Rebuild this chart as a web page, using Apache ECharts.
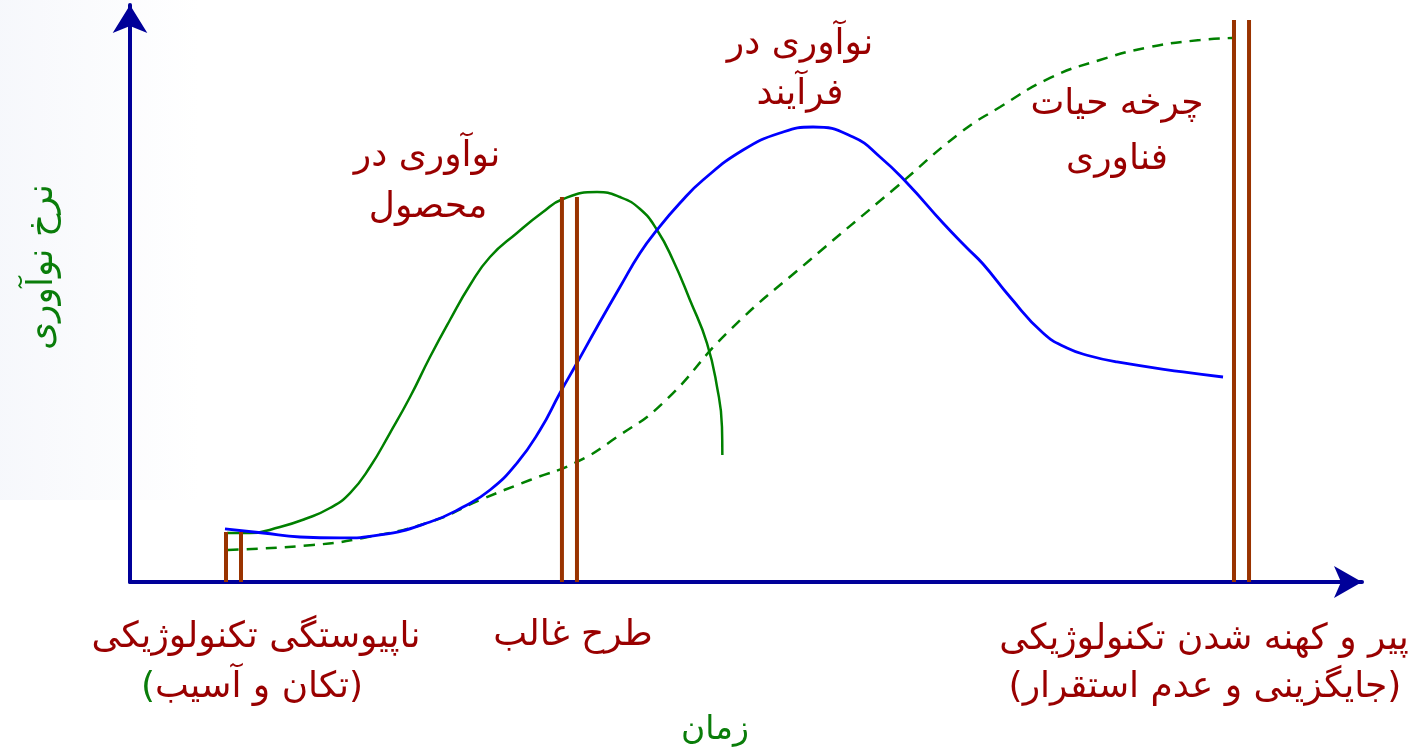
<!DOCTYPE html>
<html>
<head>
<meta charset="utf-8">
<script src="https://cdn.jsdelivr.net/npm/echarts@6/dist/echarts.min.js"></script>
<style>
  html, body { margin: 0; padding: 0; background: #fff; }
  #main { width: 1412px; height: 753px; }
</style>
</head>
<body>
<div id="main"></div>
<script>
// time axis 0..100, rate axis 0..100
var productX = [7.87, 9.74, 12.18, 14.20, 16.23, 17.86, 19.48, 21.10, 22.73, 24.35, 25.97, 27.60, 29.22, 31.41, 33.52, 35.15, 37.91, 39.77, 41.40, 42.78, 44.07, 45.45, 46.83, 47.65, 48.05, 48.08];
var productY = [8.49, 8.49, 9.53, 10.92, 12.82, 15.42, 19.93, 25.82, 32.06, 38.99, 45.41, 51.47, 56.33, 60.49, 64.12, 66.38, 67.59, 66.72, 64.64, 61.01, 55.81, 48.87, 41.42, 33.80, 26.86, 22.01];

var processX = [7.71, 10.80, 13.80, 17.05, 20.29, 24.35, 27.03, 29.22, 31.41, 33.28, 34.90, 36.28, 37.91, 39.77, 41.40, 42.78, 44.64, 46.51, 49.76, 52.76, 55.44, 58.69, 60.88, 63.07, 65.99, 67.94, 69.24, 71.43, 74.11, 76.06, 77.92, 80.11, 85.47, 88.72];
var processY = [9.19, 8.49, 7.80, 7.63, 8.15, 10.40, 13.00, 15.94, 20.62, 26.34, 32.76, 37.95, 44.19, 51.13, 57.02, 61.01, 65.68, 69.67, 74.87, 77.82, 78.86, 77.12, 73.66, 69.15, 62.22, 57.89, 55.11, 49.39, 43.15, 40.55, 39.17, 38.13, 36.40, 35.53];

var cycleX = [7.95, 14.85, 18.91, 24.35, 28.41, 32.47, 36.28, 39.53, 43.26, 48.70, 55.19, 61.93, 67.37, 70.62, 74.68, 78.73, 82.79, 86.85, 89.45];
var cycleY = [5.55, 6.41, 7.63, 10.40, 14.21, 17.68, 20.80, 25.13, 31.02, 43.67, 55.81, 67.94, 77.82, 82.32, 87.35, 90.47, 92.72, 93.93, 94.28];

// double brown bars at the three stages
var markerX = [7.79, 9.01, 35.06, 36.28, 89.61, 90.83];
var markerTop = [8.67, 8.67, 66.72, 66.72, 97.4, 97.4];

var dark = '#990000';
var green = '#0a7d0a';
var faFont = '"DejaVu Sans", sans-serif';

function pairs(xs, ys) {
  var out = [];
  for (var i = 0; i < xs.length; i++) out.push([xs[i], ys[i]]);
  return out;
}

function label(txt, x, y, color, size) {
  return { type: 'text', x: x, y: y,
    style: { text: txt, fill: color, font: size + 'px ' + faFont, align: 'center', verticalAlign: 'middle' } };
}

var myChart = echarts.init(document.getElementById('main'));

var series = [
  {
    name: 'product', type: 'line', data: pairs(productX, productY),
    smooth: 0.5, showSymbol: false,
    lineStyle: { color: '#008000', width: 2.5 }, z: 3
  },
  {
    name: 'process', type: 'line', data: pairs(processX, processY),
    smooth: 0.5, showSymbol: false,
    lineStyle: { color: '#0000ff', width: 2.8 }, z: 4
  },
  {
    name: 'cycle', type: 'line', data: pairs(cycleX, cycleY),
    smooth: 0.5, showSymbol: false,
    lineStyle: { color: '#008000', width: 2.5, type: [11, 8] }, z: 2
  }
];
markerX.forEach(function (x, i) {
  series.push({
    type: 'line', data: [[x, 0], [x, markerTop[i]]],
    showSymbol: false, silent: true, clip: false,
    lineStyle: { color: '#993300', width: 4 }, z: 5
  });
});

var option = {
  backgroundColor: '#fff',
  animation: false,
  grid: { left: 130, right: 50, top: 5, bottom: 171 },
  xAxis: {
    type: 'value', min: 0, max: 100,
    axisLine: { show: true, onZero: false, symbol: ['none', 'arrow'], symbolSize: [24, 28],
      lineStyle: { color: '#000099', width: 4 } },
    axisTick: { show: false }, axisLabel: { show: false }, splitLine: { show: false }
  },
  yAxis: {
    type: 'value', min: 0, max: 100,
    axisLine: { show: true, onZero: false, symbol: ['none', 'arrow'], symbolSize: [26, 28],
      lineStyle: { color: '#000099', width: 4 } },
    axisTick: { show: false }, axisLabel: { show: false }, splitLine: { show: false }
  },
  graphic: [
    { type: 'rect', z: -10, shape: { x: 0, y: 0, width: 200, height: 500 },
      style: { fill: new echarts.graphic.LinearGradient(0, 0, 1, 0, [
        { offset: 0, color: 'rgba(230,234,245,0.35)' },
        { offset: 1, color: 'rgba(230,234,245,0)' }]) } },
    { type: 'text', x: 43, y: 267, rotation: Math.PI / 2,
      style: { text: 'نرخ نوآوری', fill: green, font: '36px ' + faFont, align: 'center', verticalAlign: 'middle' } },
    label('نوآوری در', 427, 157, dark, 36),
    label('محصول', 428, 208, dark, 36),
    label('نوآوری در', 800, 45, dark, 36),
    label('فرآیند', 800, 95, dark, 36),
    label('چرخه حیات', 1117, 105, dark, 36),
    label('فناوری', 1117, 160, dark, 36),
    label('ناپیوستگی تکنولوژیکی', 256, 638, dark, 36),
    { type: 'text', x: 252, y: 688,
      style: { text: '{g|(}{r|تکان و آسیب}{r|)}', align: 'center', verticalAlign: 'middle',
        rich: { g: { fill: green, font: '36px ' + faFont }, r: { fill: dark, font: '36px ' + faFont } } } },
    label('طرح غالب', 573, 636, dark, 36),
    label('پیر و کهنه شدن تکنولوژیکی', 1204, 640, dark, 36),
    label('(جایگزینی و عدم استقرار)', 1205, 688, dark, 36),
    label('زمان', 715, 730, green, 33)
  ],
  series: series
};

myChart.setOption(option);
</script>
</body>
</html>
